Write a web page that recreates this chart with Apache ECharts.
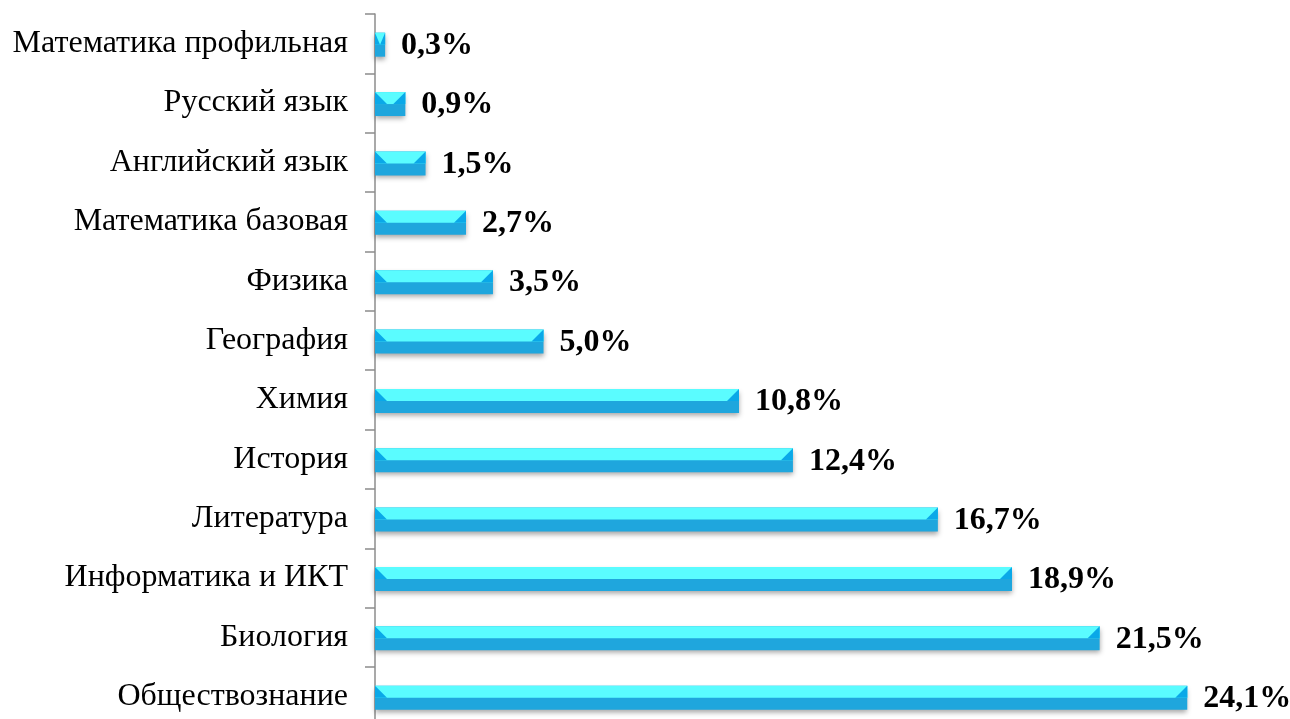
<!DOCTYPE html>
<html>
<head>
<meta charset="utf-8">
<script src="https://cdn.jsdelivr.net/npm/echarts@6/dist/echarts.min.js"></script>
<style>html,body{margin:0;padding:0;background:#fff;overflow:hidden}#c{width:1290px;height:740px}</style>
</head>
<body>
<div id="c"></div>
<script>
const categories = ['Математика профильная','Русский язык','Английский язык','Математика базовая','Физика','География','Химия','История','Литература','Информатика и ИКТ','Биология','Обществознание'];
const values = [0.3, 0.9, 1.5, 2.7, 3.5, 5.0, 10.8, 12.4, 16.7, 18.9, 21.5, 24.1];

const chart = echarts.init(document.getElementById('c'));
const BAR_H = 24;
function renderItem(params, api) {
  const idx = api.value(0);
  const val = api.value(1);
  const s = api.coord([0, idx]);
  const e = api.coord([val, idx]);
  const x0 = s[0], x1 = e[0], cy = s[1] + 1;
  const top = cy - BAR_H / 2, mid = cy;
  const w = x1 - x0;
  const b = Math.min(12, w / 2);
  return {
    type: 'group',
    children: [
      { type: 'rect', shape: { x: x0, y: top, width: w, height: BAR_H },
        style: { fill: '#1FA6DD', shadowBlur: 5, shadowOffsetY: 3, shadowColor: 'rgba(0,0,0,0.35)' } },
      { type: 'rect', shape: { x: x0, y: top, width: w, height: BAR_H / 2 }, style: { fill: '#5AFCFF' } },
      { type: 'polygon', shape: { points: [[x0, top], [x0 + b, mid], [x0, mid]] }, style: { fill: '#0AA8E8' } },
      { type: 'polygon', shape: { points: [[x1, top], [x1 - b, mid], [x1, mid]] }, style: { fill: '#0AA8E8' } },
      { type: 'text', style: { text: val.toFixed(1).replace('.', ',') + '%', x: x1 + 16, y: cy + 1,
        verticalAlign: 'middle', align: 'left', fill: '#000',
        font: 'bold 32px "Liberation Serif", "Times New Roman", serif' } }
    ]
  };
}
chart.setOption({
  animation: false,
  grid: { left: 375, top: 14, width: 910, height: 712.4, containLabel: false },
  xAxis: { type: 'value', min: 0, max: 27, show: false, splitLine: { show: false } },
  yAxis: {
    type: 'category', inverse: true, data: categories,
    axisLine: { show: true, lineStyle: { color: '#8C8C8C', width: 1.5 } },
    axisTick: { show: true, length: 10, lineStyle: { color: '#8C8C8C', width: 1.5 } },
    axisLabel: { margin: 27, color: '#000', fontSize: 32, fontFamily: '"Liberation Serif", "Times New Roman", serif' }
  },
  series: [{
    type: 'custom', renderItem: renderItem, silent: true,
    encode: { x: 1, y: 0 },
    data: values.map((v, i) => [i, v])
  }]
});
</script>
</body>
</html>
